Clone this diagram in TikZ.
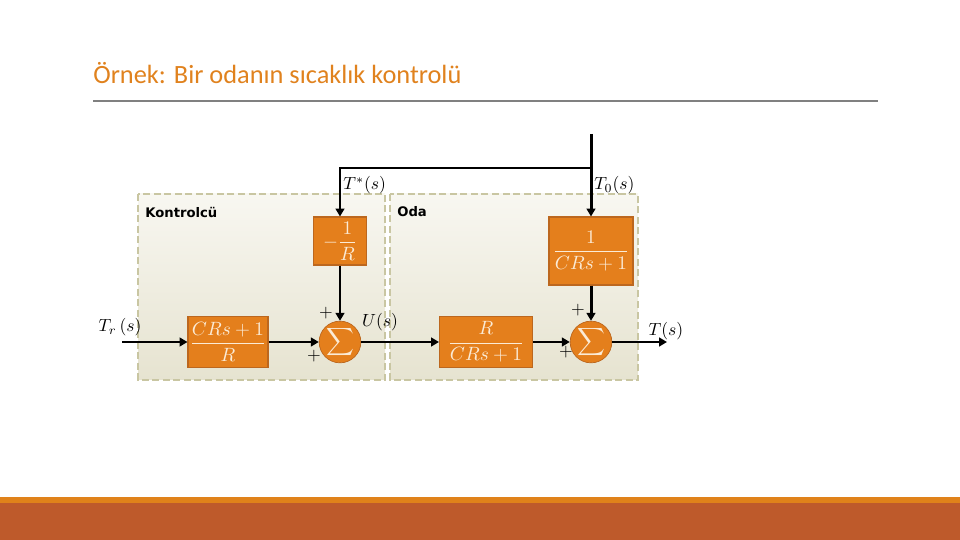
\documentclass[tikz,border=0pt]{standalone}
\usepackage{amsmath,amssymb}
\usepackage{fontspec}
\usepackage{xcolor}
\usepackage{tikz}
\usetikzlibrary{arrows.meta}
\newfontfamily\titlefont{Carlito}
\newfontfamily\boxfont{DejaVu Sans}
\definecolor{ttl}{HTML}{E0821E}
\definecolor{blkfill}{HTML}{E47F1C}
\definecolor{blkline}{HTML}{BC671E}
\definecolor{blktext}{HTML}{FBEBD6}
\definecolor{grpline}{HTML}{C9C6A2}
\definecolor{grptop}{HTML}{F8F7F1}
\definecolor{grpbot}{HTML}{E6E3D0}
\definecolor{barlight}{HTML}{E0821A}
\definecolor{bardark}{HTML}{BE5A2B}
\newcommand\fr[2]{\ensuremath{\displaystyle\frac{#1}{#2}}}
\tikzstyle{grp}=[draw=grpline,line width=1.2pt,dash pattern=on 4pt off 2pt,top color=grptop,bottom color=grpbot]
\tikzstyle{blk}=[draw=blkline,fill=blkfill,line width=.6pt,text=blktext,inner sep=0pt,font=\fontsize{10.5}{12}\selectfont]
\tikzstyle{sumnode}=[circle,fill=blkfill,draw=blkline,line width=.4pt,minimum size=.68cm,inner sep=0pt,text=blktext,font=\fontsize{11}{12}\selectfont]
\tikzstyle{sig}=[line width=1.7pt,-{Triangle[length=4.5pt,width=5pt]}]
\tikzstyle{lbl}=[inner sep=0pt,font=\fontsize{10}{12}\selectfont]
\begin{document}
\begin{tikzpicture}[x=0.02cm,y=-0.02cm]
	\useasboundingbox (0,0) rectangle (960,540);
	% title and page bars
	\node[anchor=base west,inner sep=0pt,text=ttl,font=\titlefont\fontsize{15}{18}\selectfont] (title) at (93,84) {Örnek: Bir odanın sıcaklık kontrolü};
	\draw[gray,line width=.6pt] (93,101) -- (878,101);
	\fill[barlight] (0,497) rectangle (960,503);
	\fill[bardark] (0,503) rectangle (960,540);
	% groups
	\draw[grp] (138,194) rectangle (385,380);
	\draw[grp] (390,194) rectangle (638,380);
	\node[anchor=west,inner sep=0pt,font=\boxfont\bfseries\fontsize{7.5}{9}\selectfont] (ktr) at (145,212) {Kontrolcü};
	\node[anchor=west,inner sep=0pt,font=\boxfont\bfseries\fontsize{7.5}{9}\selectfont] (oda) at (397,212) {Oda};
	% blocks
	\node[blk,minimum width=1.6cm,minimum height=1.02cm] (b1) at (228,342) {\fr{CRs+1}{R}};
	\node[blk,minimum width=1.06cm,minimum height=.96cm] (b2) at (340,241) {$-$\fr{1}{R}};
	\node[blk,minimum width=1.86cm,minimum height=1.02cm] (b3) at (486,342) {\fr{R}{CRs+1}};
	\node[blk,minimum width=1.68cm,minimum height=1.36cm] (b4) at (591,251) {\fr{1}{CRs+1}};
	\node[sumnode] (s1) at (340,342) {$\displaystyle\sum$};
	\node[sumnode] (s2) at (591,342) {$\displaystyle\sum$};
	% signals
	\coordinate (in) at (122,342);
	\coordinate (out) at (667,342);
	\coordinate (top) at (591,134);
	\coordinate (jn) at (591,168);
	\coordinate (kn) at (340,168);
	\draw[sig] (in) -- (b1);
	\draw[sig] (b1) -- (s1);
	\draw[sig] (s1) -- (b3);
	\draw[sig] (b3) -- (s2);
	\draw[sig] (s2) -- (out);
	\draw[sig] (top) -- (b4);
	\draw[sig] (jn) -- (kn) -- (b2);
	\draw[sig] (b2) -- (s1);
	\draw[sig] (b4) -- (s2);
	% labels
	\node[lbl] (ltr) at (120,327) {$T_r\,(s)$};
	\node[lbl,anchor=west] (lts) at (343,185) {$T^*(s)$};
	\node[lbl,anchor=west] (lt0) at (594,185) {$T_0(s)$};
	\node[lbl] (lu) at (380,322) {$U(s)$};
	\node[lbl] (lt) at (666,331) {$T(s)$};
	\node[lbl] (p1) at (326,313) {$+$};
	\node[lbl] (p2) at (314,356) {$+$};
	\node[lbl] (p3) at (578,310) {$+$};
	\node[lbl] (p4) at (566,352) {$+$};
\end{tikzpicture}
\end{document}
